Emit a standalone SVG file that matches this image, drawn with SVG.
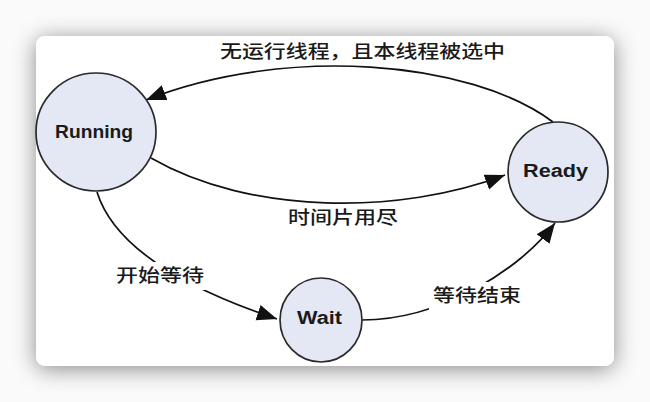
<svg xmlns="http://www.w3.org/2000/svg" width="650" height="402" viewBox="0 0 650 402">
  <defs>
    <filter id="shadow" x="-20%" y="-20%" width="140%" height="140%">
      <feDropShadow dx="0" dy="3" stdDeviation="11" flood-color="#000" flood-opacity="0.45"/>
    </filter>
    <marker id="arrow" markerUnits="userSpaceOnUse" markerWidth="22" markerHeight="18" refX="20" refY="8" orient="auto">
      <path d="M0,0 L20,8 L0,16 Z" fill="#111"/>
    </marker>
  </defs>
  <style>
    .node { fill: #e3e8f4; stroke: #2a2a2a; stroke-width: 1.7; }
    .edge { fill: none; stroke: #111; stroke-width: 1.7; marker-end: url(#arrow); }
    .name { font-family: "Liberation Sans", Arial, sans-serif; font-weight: bold; font-size: 18px; fill: #1a1a1a; }
    .lbl { font-family: "Noto Sans CJK SC", "Noto Sans", sans-serif; font-size: 18px; font-weight: 500; fill: #1a1a1a; }
    .bg { fill: #ffffff; }
  </style>
  <rect width="650" height="402" fill="#fafafa"/>
  <rect x="36" y="36" width="578" height="330" rx="9" fill="#ffffff" filter="url(#shadow)"/>

  <g id="connectors">
    <path class="edge" d="M553,122 C470,60 285,45 146,100"/>
    <path class="edge" d="M151,158 C250,215 400,215 505,175"/>
    <path class="edge" d="M97,192 C115,250 190,290 277,319"/>
    <path class="edge" d="M362,320 C440,320 520,270 555,223"/>
  </g>

  <g id="label-top">
    <text class="lbl" x="220" y="58" textLength="285" lengthAdjust="spacingAndGlyphs">无运行线程，且本线程被选中</text>
  </g>
  <g id="label-timeslice">
    <text class="lbl" x="288" y="224" textLength="110" lengthAdjust="spacingAndGlyphs">时间片用尽</text>
  </g>
  <g id="label-startwait">
    <rect class="bg" x="112" y="262" width="96" height="28"/>
    <text class="lbl" x="116" y="282" textLength="88" lengthAdjust="spacingAndGlyphs">开始等待</text>
  </g>
  <g id="label-endwait">
    <rect class="bg" x="429" y="282" width="96" height="28"/>
    <text class="lbl" x="433" y="302" textLength="88" lengthAdjust="spacingAndGlyphs">等待结束</text>
  </g>

  <g id="node-running">
    <ellipse class="node" cx="96" cy="132" rx="60" ry="59"/>
    <text class="name" x="55" y="138" textLength="78" lengthAdjust="spacingAndGlyphs">Running</text>
  </g>
  <g id="node-ready">
    <ellipse class="node" cx="558" cy="172" rx="50" ry="50"/>
    <text class="name" x="523" y="177" textLength="65" lengthAdjust="spacingAndGlyphs">Ready</text>
  </g>
  <g id="node-wait">
    <ellipse class="node" cx="321" cy="320" rx="41" ry="42"/>
    <text class="name" x="297" y="324" textLength="45" lengthAdjust="spacingAndGlyphs">Wait</text>
  </g>
</svg>
